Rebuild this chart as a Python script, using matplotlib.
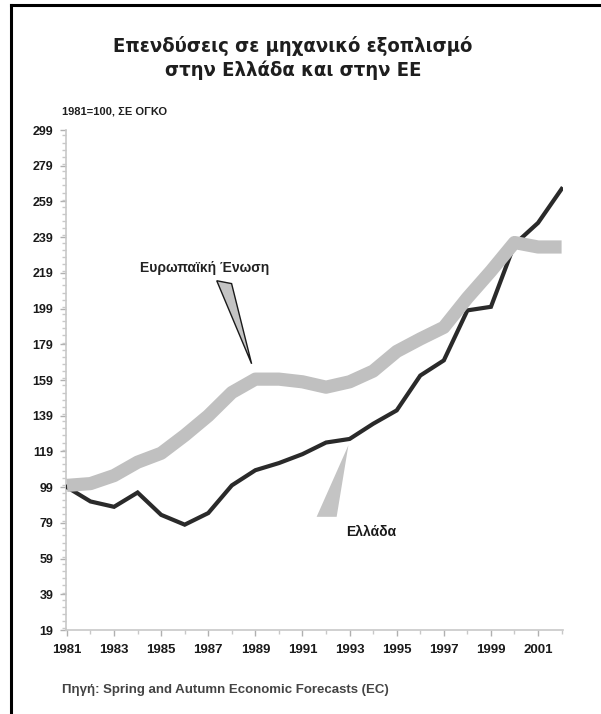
import matplotlib
matplotlib.use("Agg")
import matplotlib.pyplot as plt
from matplotlib.patches import Polygon
from matplotlib.lines import Line2D
from matplotlib.ticker import MultipleLocator, FixedLocator
from matplotlib import font_manager as fm

years = list(range(1981, 2003))
greece = [99, 91, 88, 96, 83.5, 78, 84.5, 100, 108.5, 112.5, 117.5, 124,
          126, 134.5, 142, 161.5, 170, 198, 200, 235, 247, 266]
eu = [100, 101, 105.5, 113, 118, 128, 139, 152, 159.5, 159.5, 158, 155,
      158, 164, 175, 182, 188.5, 205, 220, 236, 233.5, 233.5]
ytick_vals = list(range(19, 300, 20))
xtick_labels = [str(y) for y in range(1981, 2002, 2)]

title = "Επενδύσεις σε μηχανικό εξοπλισμό\nστην Ελλάδα και στην ΕΕ"
subtitle = "1981=100, ΣΕ ΟΓΚΟ"
source = "Πηγή: Spring and Autumn Economic Forecasts (EC)"
label_eu = "Ευρωπαϊκή Ένωση"
label_gr = "Ελλάδα"

SANS = ["Liberation Sans", "DejaVu Sans"]

# look for a condensed bold face for the title
cond_path = None
for f in fm.fontManager.ttflist:
    n = f.name.lower()
    if ("narrow" in n or "condensed" in n or f.stretch in ("condensed", "semi-condensed")) \
            and f.weight in ("bold", 700):
        cond_path = f.fname
        break
if cond_path:
    title_fp = fm.FontProperties(fname=cond_path, size=14.5)
else:
    title_fp = fm.FontProperties(family=SANS, weight="bold", size=14.5)

fig = plt.figure(figsize=(6.01, 7.14), dpi=100)
ax = fig.add_axes([0.1098, 0.1176, 0.827, 0.7003])

ax.plot(years, greece, color="#2a2a2a", lw=3.0, solid_joinstyle="miter", zorder=3)
ax.plot(years, eu, color="#c0c0c0", lw=9.5, solid_joinstyle="round",
        solid_capstyle="butt", zorder=4)

ax.set_xlim(1980.96, 2002.06)
ax.set_ylim(19, 299)

ax.yaxis.set_major_locator(FixedLocator(ytick_vals))
ax.yaxis.set_minor_locator(MultipleLocator(4))
ax.xaxis.set_major_locator(FixedLocator(list(range(1981, 2002, 2))))
ax.xaxis.set_minor_locator(MultipleLocator(1))
ax.set_xticklabels(xtick_labels)

for s in ["top", "right"]:
    ax.spines[s].set_visible(False)
for s in ["left", "bottom"]:
    ax.spines[s].set_color("#c8c8c8")
    ax.spines[s].set_linewidth(1.2)

ax.tick_params(axis="both", which="major", color="#b0b0b0", length=4, width=1,
               labelcolor="#1a1a1a")
ax.tick_params(axis="x", which="major", pad=6, labelsize=9.5)
ax.tick_params(axis="y", which="major", pad=5, labelsize=9)
ax.tick_params(axis="both", which="minor", color="#c8c8c8", length=3, width=1)
for lab in ax.get_xticklabels() + ax.get_yticklabels():
    lab.set_fontfamily(SANS)
    lab.set_fontweight("bold")

# callout wedges
ax.add_patch(Polygon([(1987.36, 214.6), (1987.99, 213.0), (1988.84, 168.1)],
                     closed=True, facecolor="#c4c4c4", edgecolor="#1a1a1a",
                     lw=1.0, zorder=5))
ax.add_patch(Polygon([(1991.60, 82.4), (1992.45, 82.4), (1992.95, 122.5)],
                     closed=True, facecolor="#c4c4c4", edgecolor="none", zorder=2))

ax.text(1986.86, 221.5, label_eu, ha="center", va="center", fontsize=10,
        family=SANS, fontweight="bold", color="#222222")
ax.text(1993.9, 74.0, label_gr, ha="center", va="center", fontsize=10,
        family=SANS, fontweight="bold", color="#1a1a1a")

fig.text(293 / 601, 1 - 58 / 714, title, ha="center", va="center",
         fontproperties=title_fp, color="#1e1e1e", linespacing=1.35)
fig.text(62 / 601, 1 - 112 / 714, subtitle, ha="left", va="center",
         fontsize=8, family=SANS, fontweight="bold", color="#1e1e1e")
fig.text(62 / 601, 1 - 690 / 714, source, ha="left", va="center",
         fontsize=9.5, family=SANS, fontweight="bold", color="#444444")

# frame lines (left and top)
fig.add_artist(Line2D([11 / 601, 11 / 601], [0, 1 - 5 / 714],
                      transform=fig.transFigure, color="black", lw=2.2))
fig.add_artist(Line2D([11 / 601, 1], [1 - 5 / 714, 1 - 5 / 714],
                      transform=fig.transFigure, color="black", lw=2.2))

fig.savefig("out.png", dpi=100)
